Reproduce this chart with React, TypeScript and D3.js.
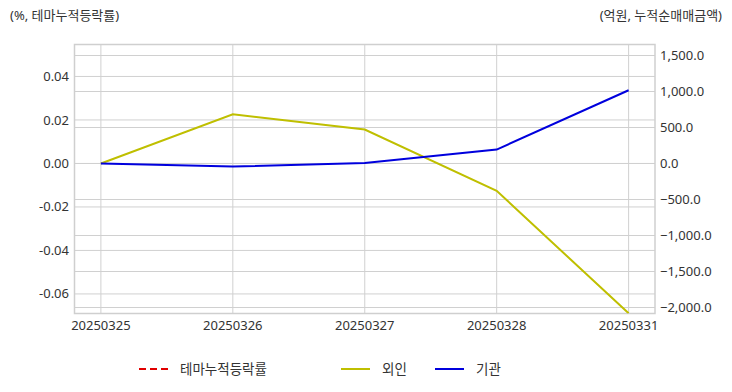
import * as d3 from 'd3';

const dates = ['20250325', '20250326', '20250327', '20250328', '20250331'];
const themeRate: number[] = []; // 테마누적등락률 – no visible values
const foreign = [0, 685, 472, -380, -2080];
const institution = [0, -42, 8, 194, 1018];
const leftTicks = [0.04, 0.02, 0, -0.02, -0.04, -0.06];
const rightTicks = [1500, 1000, 500, 0, -500, -1000, -1500, -2000];

const W = 732;
const H = 392;
const m = { left: 74.5, right: 655, top: 44.5, bottom: 313.5 };
const FONT = '"Noto Sans", "Noto Sans CJK KR", sans-serif';
const TXT = '#333';

export default function App() {
  const x = d3.scalePoint<string>().domain(dates).range([m.left, m.right]).padding(0.2);
  const yL = d3.scaleLinear().domain([-0.069, 0.0547]).range([m.bottom, m.top]);
  const yR = d3.scaleLinear().domain([-2083, 1653]).range([m.bottom, m.top]);

  const lineR = d3
    .line<number>()
    .x((_, i) => x(dates[i])!)
    .y((d) => yR(d));
  const lineL = d3
    .line<number>()
    .x((_, i) => x(dates[i])!)
    .y((d) => yL(d));

  const fmtR = d3.format(',.1f');
  const fmtL = (v: number) => v.toFixed(2);

  const legend = [
    { label: '테마누적등락률', color: '#e00000', dash: '7,4', x: 139 },
    { label: '외인', color: '#bfbf00', dash: undefined, x: 341 },
    { label: '기관', color: '#0000dd', dash: undefined, x: 435 },
  ];

  return (
    <svg
      width={W}
      height={H}
      style={{ position: 'absolute', left: 0, top: 0, background: '#fff' }}
      fontFamily={FONT}
    >
      <defs>
        <clipPath id="plot">
          <rect x={m.left} y={m.top} width={m.right - m.left} height={m.bottom - m.top} />
        </clipPath>
      </defs>
      <text x={10} y={20} fontSize={13} fill={TXT}>
        (%, 테마누적등락률)
      </text>
      <text x={722} y={20} fontSize={13} fill={TXT} textAnchor="end">
        (억원, 누적순매매금액)
      </text>

      {leftTicks.map((t) => (
        <line key={'gl' + t} x1={m.left} x2={m.right} y1={yL(t)} y2={yL(t)} stroke="#d0d0d0" />
      ))}
      {rightTicks.map((t) => (
        <line key={'gr' + t} x1={m.left} x2={m.right} y1={yR(t)} y2={yR(t)} stroke="#d0d0d0" />
      ))}
      {dates.map((d) => (
        <line key={'gv' + d} x1={x(d)} x2={x(d)} y1={m.top} y2={m.bottom} stroke="#d0d0d0" />
      ))}
      <rect
        x={m.left}
        y={m.top}
        width={m.right - m.left}
        height={m.bottom - m.top}
        fill="none"
        stroke="#cfcfcf"
        strokeWidth={1.5}
      />

      {leftTicks.map((t) => (
        <text key={'tl' + t} x={69} y={yL(t)} dy="0.35em" fontSize={13} fill={TXT} textAnchor="end">
          {fmtL(t)}
        </text>
      ))}
      {rightTicks.map((t) => (
        <text key={'tr' + t} x={660} y={yR(t)} dy="0.35em" fontSize={13} fill={TXT}>
          {fmtR(t)}
        </text>
      ))}
      {dates.map((d) => (
        <text key={'tx' + d} x={x(d)} y={330} fontSize={13} fill={TXT} textAnchor="middle">
          {d}
        </text>
      ))}

      <g clipPath="url(#plot)">
        {themeRate.length > 0 && (
          <path d={lineL(themeRate) ?? ''} fill="none" stroke="#e00000" strokeWidth={2} strokeDasharray="7,4" />
        )}
        <path d={lineR(foreign) ?? ''} fill="none" stroke="#bfbf00" strokeWidth={2} />
        <path d={lineR(institution) ?? ''} fill="none" stroke="#0000dd" strokeWidth={2} />
      </g>

      {legend.map((l) => (
        <g key={l.label}>
          <line x1={l.x} x2={l.x + 29} y1={369} y2={369} stroke={l.color} strokeWidth={2} strokeDasharray={l.dash} />
          <text x={l.x + 41} y={369} dy="0.35em" fontSize={13.5} fill={TXT}>
            {l.label}
          </text>
        </g>
      ))}
    </svg>
  );
}
